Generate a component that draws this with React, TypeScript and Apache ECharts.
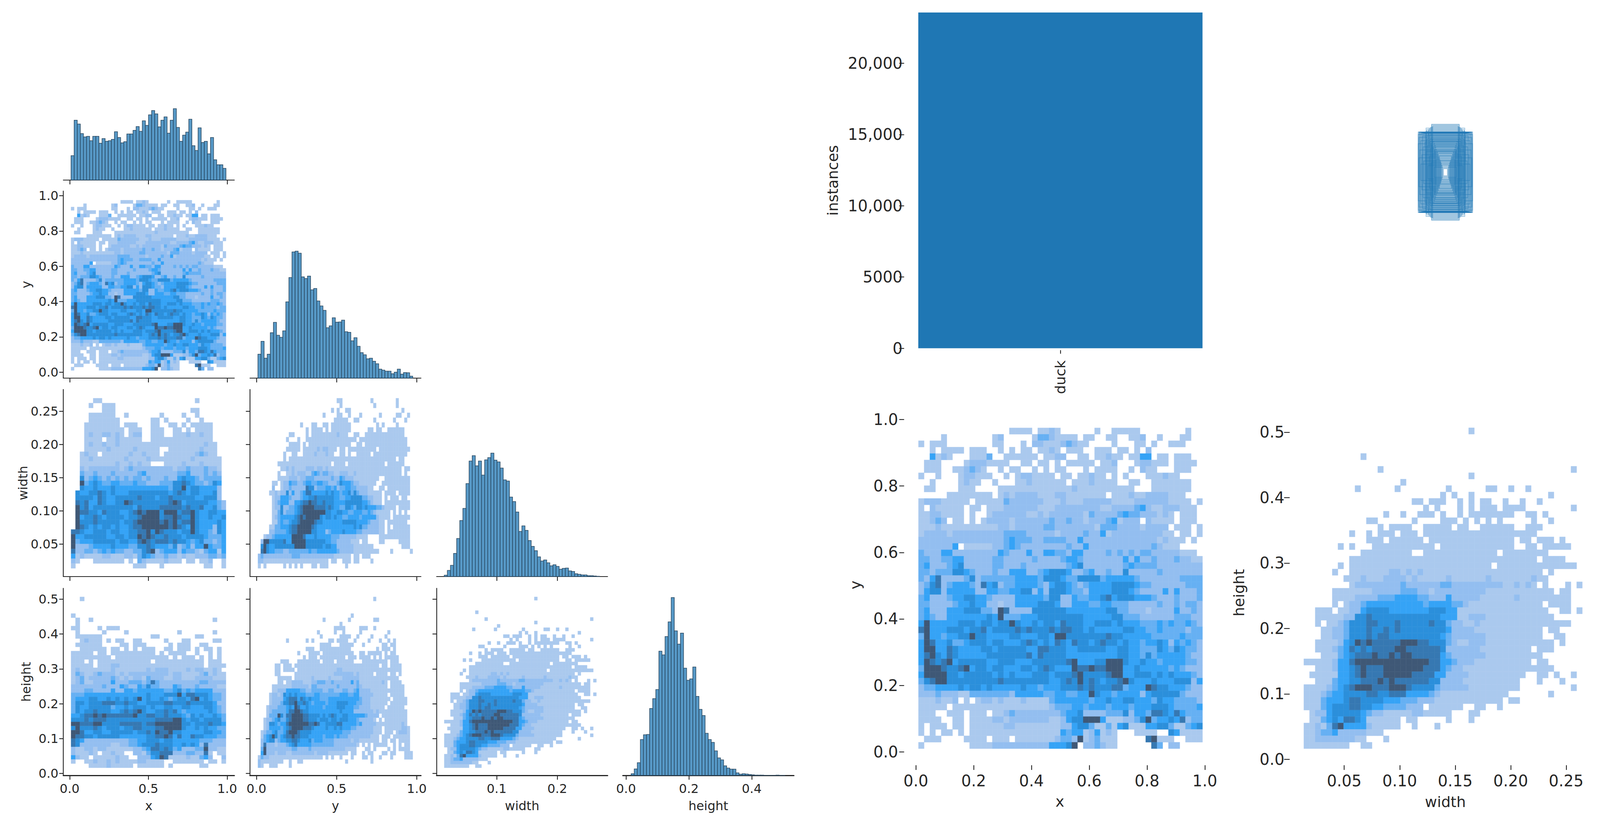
import React, { useEffect, useRef } from 'react';
import * as echarts from 'echarts';

const FONT = 'DejaVu Sans';
const TEXT = '#262626';
const BAR_BLUE = '#1f77b4';
const DESIGN_WIDTH = 4295;

// seaborn pmax ramp, 0 = empty bin
const levelColors = ['none', '#aac9ee', '#93bef0', '#66b0f3', '#35a3f6', '#2b8fdb', '#3678b2', '#3f5876'];

const classNames = ['duck'];
const classCounts = [23560];
const classTicks = [0, 5000, 10000, 15000, 20000];
const classTickLabels = ['0', '5000', '10,000', '15,000', '20,000'];

const xRange = [0.009, 0.992];
const yRange = [0.0096, 0.975];
const widthRange = [0.0136, 0.2697];
const heightRange = [0.0163, 0.5067];

const xCounts = [254, 624, 584, 484, 450, 456, 410, 456, 456, 384, 432, 404, 410, 424, 504, 444, 388, 400, 480, 480, 518, 558, 508, 618, 570, 680, 724, 690, 554, 624, 658, 488, 624, 744, 548, 404, 468, 500, 634, 358, 308, 544, 392, 404, 274, 444, 212, 160, 160, 122];
const yCounts = [120, 185, 100, 120, 228, 280, 215, 205, 237, 383, 505, 633, 637, 627, 508, 500, 512, 443, 450, 387, 362, 340, 253, 262, 303, 281, 282, 291, 233, 230, 187, 203, 160, 128, 117, 97, 100, 85, 72, 45, 40, 35, 35, 22, 30, 45, 20, 28, 27, 10];
const widthCounts = [5, 22, 40, 82, 135, 199, 242, 330, 410, 429, 393, 410, 360, 414, 422, 438, 413, 407, 385, 343, 339, 282, 266, 229, 160, 180, 164, 128, 107, 92, 70, 55, 59, 49, 38, 42, 36, 26, 29, 30, 20, 18, 10, 8, 6, 6, 3, 3, 2, 1];
const heightCounts = [6, 23, 45, 127, 144, 145, 237, 272, 304, 440, 427, 492, 544, 630, 512, 465, 504, 380, 337, 342, 384, 280, 234, 212, 149, 127, 117, 87, 62, 55, 34, 26, 22, 22, 9, 4, 6, 5, 3, 2, 1, 1, 1, 0, 0, 0, 0, 1, 0, 0];

// label boxes drawn centred on the image, half sizes in image units
const boxHalfW = [5.3, 7, 30, 8, 47, 9, 66, 11, 38, 12, 58, 14, 25, 15, 71, 17, 43, 18, 63, 20, 33, 23, 52, 25, 69, 28, 40, 30, 60, 32, 48, 35, 73, 38, 55, 40, 66, 44, 50, 47, 71, 50, 61, 53, 73, 57, 66, 62, 70, 73, 70, 52, 46, 50, 44, 52, 40, 36, 34, 37, 37, 24, 27, 35, 42, 29, 22, 16, 13, 19, 21, 26, 31, 37, 45, 54, 64, 68, 59, 49, 41, 34, 10, 12, 14, 16, 18, 20, 22, 24, 26, 28, 30, 32, 34, 36, 38, 39, 41, 43, 45, 46, 48, 49, 51, 52, 54, 55, 56, 58, 60, 61, 63, 65, 67, 69, 72, 27, 29, 33, 36, 42];
const boxHalfH = [9, 11, 13, 15, 17, 19, 21, 23, 25, 27, 29, 31, 33, 35, 37, 39, 41, 43, 45, 47, 49, 51, 53, 55, 57, 59, 61, 63, 65, 67, 69, 71, 73, 75, 77, 79, 81, 83, 85, 87, 89, 91, 93, 95, 97, 99, 100, 101, 102, 103, 103, 105, 107, 109, 111, 113, 115, 117, 119, 121, 123, 60, 70, 85, 95, 75, 55, 42, 30, 48, 52, 65, 80, 90, 100, 100, 102, 103, 100, 95, 85, 80, 19, 23, 27, 31, 35, 39, 43, 47, 51, 55, 59, 63, 67, 69, 73, 75, 77, 79, 81, 83, 85, 87, 89, 91, 93, 95, 97, 99, 100, 101, 101, 102, 102, 103, 103, 53, 57, 65, 71, 79];

// 2d histograms, top row first, one digit per bin
const xyRows = [
  '00000000000000001111011210000001001111100000000100',
  '00001000000001200000133211110110011001120010001100',
  '10111000000001100010221112321100001000110100111000',
  '00101111011100101011011210111001110110102000000000',
  '00412100011130011111101122001101121101144011011100',
  '01110000122211110011011010111110112000122111011110',
  '01110011232100101100101011000101111001021100011100',
  '10010001221110010122111101101121101010001112110000',
  '00100001211001000112111111011121111001100111111100',
  '01100001110000111111111111121111111111000111111100',
  '00000111111110121222211122111111101112112222111000',
  '12221111101111132222221112111222221111222222111101',
  '10211111011011122222211122222222112222342112221110',
  '11221111010012222221121222222132222343322212101110',
  '11232011010122221222222322322122234122202111101110',
  '11121111111111221222223322222221333222212222011101',
  '12222122222222233332222212222322412222222221101101',
  '22222222222222234333223333224222222222222212111010',
  '22222240111112234322222222322422222222222321110000',
  '32224422222222432224224433244222232323233222221110',
  '33223344222223322222322223443222222242422322232211',
  '34222345222223322232222222345222222234333322222222',
  '33233355432223224442234555422342232252222232222222',
  '32462222352333333444435554335555344444322222223333',
  '23562344432645233444432455432344445555433222222333',
  '24552444442244334455242555433244445554322224242223',
  '34222344554432222444443552243344564555444322232223',
  '33222234454422122444455542244433443332222232232332',
  '34222444555332762222555555444444455332221222242232',
  '34322444444454733344455555555444445533322222233322',
  '47444445554554557544545546555445554544433343433432',
  '67444555455645555656555656655454444455443343333233',
  '37443445575544445544455477555555565544444333334333',
  '47644533455545544456545465465545655454434454243432',
  '47744654444554555554466555445555544554433354354332',
  '46754654444455555556465555444444444554435344444322',
  '47656745555544555444555555674445577754454434444332',
  '37776556745545544455456544476676677744544444343222',
  '47777554555554545444555455567555567744555454544432',
  '35677555555555655555555445657565455675444544455524',
  '23344445455454444454434445556565556634447655444322',
  '22232221133333332444443344334475443444424555553222',
  '11121120101221211121111344444434454455444354433332',
  '11111011111111111111111233344344434443444555433334',
  '11100111011101123222222223445222233352443665464333',
  '11110011011112212222222112455777411122357344546233',
  '10111011011111122111111112245531131451114455311345',
  '10101101011111111111111114344124121000111100541111',
  '01110000111101110111111123327123111000006711100111',
  '10000000011112222222222444570223211000000630220000',
];

const whRows = [
  '00000000000000000000000000000100000000000000000000',
  '00000000000000000000000000000000000000000000000000',
  '00000000000000000000000000000000000000000000000000',
  '00000000000000000000000000000000000000000000000000',
  '00000000001000000000000000000000000000000000000000',
  '00000000000000000000000000000000000000000000000000',
  '00000000000001000000000000000000000000000000000100',
  '00000000000000000000000000000100000000000000000000',
  '00000000000000000100000000000000000000000000000000',
  '00000000010000001000000001000000110010010000000000',
  '00000000000000000000000010100100000000000001000000',
  '00000000000000000001101110010101100100100100000000',
  '00000000000000000000010100010101110111100000000100',
  '00000000000000100100111010010111111110011010000000',
  '00000000000110000001000011101010101000001001000000',
  '00000000000001011110011111011001111110011100000000',
  '00000000100101110111011111111111111111111000000000',
  '00000000000111011111101111111111111110110111010000',
  '00000010100011111111111011111111111110011011111000',
  '00000000001111111110011111111111110111111110000000',
  '00000000111111111111111111111111111111111011110000',
  '00000010111111111111111111111111101111111111111100',
  '00000100111111122121211111111111111111111101000000',
  '00000001112111222212111112111111211111112110000000',
  '00000000122222222322222233222222222112121010001010',
  '00000111111122222333221222222222111111111111011000',
  '00000111122223334444332224222221111112111111111000',
  '00000101223444444444434444332111111111111101111000',
  '00111011224555544444445554411111111111111110011010',
  '00111112255655555555555544411222111111111111000000',
  '00101123555665556555556553221121111111111111111000',
  '00011223555655656555555554222211111111111101100000',
  '00011223555656655555555543222222111111111100110000',
  '00111124576766666777665553211222111111111111010000',
  '00111234656566667766666652222221111111110111000000',
  '00011134566676676776666643222222111111111100000000',
  '11111244677777777777776644322211111111110110000000',
  '00111244567666777777766643221111111111111111000000',
  '01111144567666777776666442222111111111100110100100',
  '00111344556667676666665522221111111111000100010000',
  '11112345677766677765555322222111111111000000000100',
  '11123445555665566644443211111111111100000001000000',
  '11134445665555444333222111111111111011000000000000',
  '11134555665544333322201111110011001000000000000000',
  '01224555554322111112211111000110000000000000000000',
  '01134546654111111011000001000100000000000000000000',
  '11213674444211111001000100000000000000000000000000',
  '11233422222111000000000000000000000000000000000000',
  '11222222211000100000000000000000000000000000000000',
  '11111111001100000000000000000000000000000000000000',
];

const xWidthRows = [
  '00000110000000000000000000001000000',
  '00001001110000000000000000000000000',
  '00000001110000000000000000011000000',
  '00001111110010000000100001001000000',
  '00001111111000000011010000100100000',
  '00011111111011100011001101011111000',
  '00011111111101110011100110101111000',
  '00012112212101220011100111211211000',
  '00011110112111110011111111111111000',
  '00012112112111111111111111111121100',
  '00011111211111211111001111111211100',
  '00121101111112112111011111112321100',
  '00112111111121111211111111121111110',
  '00111111112112121100011112111211110',
  '00212222222123222222222122322232210',
  '00322322232222234222222233422232320',
  '00523432323232332322232245443233330',
  '00734543344333433222333556543323540',
  '00544544454444444444443557455444420',
  '05445565454445555555554565455444520',
  '05555465445555565554556555554455520',
  '06564465445576555555556764555554432',
  '07564555555555465555666665655644532',
  '07665546555445676777577756675445544',
  '07455654555545567777566765575445445',
  '07555655555455677777676756675444454',
  '07654545545445667777776765475444254',
  '66544555455445566757655545575443254',
  '74455555445545576765565554555543334',
  '73444555554554467656665655434533234',
  '72223444454443355654443523424474334',
  '62233234343322335672344424332134414',
  '41211112211122135432232212112223323',
  '21000111111101032111121110110112001',
  '10000000000000111000100000000011001',
];

const xHeightRows = [
  '00100000000000000000000000000000000',
  '00000000000000000000000000000000000',
  '00000000000000000000000000000000000',
  '00000000000000000000000000000000000',
  '10000000000000000000000000000000000',
  '01001000000000000000000000000000100',
  '01000000000000000000000000000000000',
  '11000010111000000000000000000000000',
  '01000001000010000000000010000000100',
  '01111110000000000011000000001100000',
  '00121110101100110000010001100000110',
  '01111110000110111000001011100110000',
  '00111111011010101110011011101011010',
  '11111011011111111110101111001001010',
  '11111111101111111111110101110101010',
  '11101011111111111101111111111101110',
  '11111011122111111111111111111101111',
  '12111111121111111212221111212211210',
  '13211232221212222222221221111231211',
  '12312222232121221322211221112222111',
  '12311222242223332363222222222332222',
  '22222223222432243533222432223222211',
  '22233222242244344444433453434444222',
  '33344444444444444544455574665554332',
  '34445544545454574544543455467454332',
  '35545556665565544555566555655555422',
  '35445555534454555454455445544455432',
  '35455655544565675445565643444445432',
  '44566767666666755665565554354544543',
  '55565666555555555556666775455455553',
  '77666775555666665667777775545556554',
  '57555654555455665556677775445454433',
  '77644554455555455657667554444455443',
  '76655455555444444556676464465544433',
  '65422222222223344555455444444333222',
  '65222222211223345556555445454262222',
  '21122122111111223466565342223372211',
  '21112101121100221355666222332261011',
  '42110111112110022245761111211342002',
  '10011211212111122111100111111101101',
  '00001111211111011111101000000110000',
];

const yWidthRows = [
  '0000000000000000000000000000110000000000100000000100000',
  '0000000000000000000000000000010000000000010000000100000',
  '0000000000000000000000000010100110000000000000000001000',
  '0000000000000000000000010000110010001000000100000110010',
  '0000000000000000000000000001111100110000010000001000100',
  '0000000000000001000110011011111110000000001010000100000',
  '0000000000000000010111101011111110000001101100111111000',
  '0000000000011000010111111111211100110011111111111111000',
  '0000000000100010011111111111111111101111111111111111100',
  '0000000000011110101111111111111110011011111111111111100',
  '0000000000111110111112122111011011111111110111111111110',
  '0000000001001100111121112110011010011111011111111111100',
  '0000000001011111111111111111111111111111111111111011000',
  '0000000111111111111111111101111011111111111110111111000',
  '0000000011212111122212212111111111111111111111111110110',
  '0000000100112122211343233221122211211111111111111110100',
  '0000000111122212233322222232243222111111111001111111110',
  '0000011012243322344334433222354443221111110011111111110',
  '0000020012232222265523334434233443322221100110111111110',
  '0000112122524223466444445454434453532221111101111011110',
  '0000012244432223445565555554433445555332211101011101100',
  '0000012344422445667665565554444555555443211101111111110',
  '0000012252233456777766665654433554355454443321111011110',
  '0000011352333456777777775544554433444334321111101010100',
  '0000012344444567677777545545443344443444442111101111110',
  '0000011343345567777765544444445555544443222110111111100',
  '0000113344456677777654444444444444545332222110101111110',
  '0000223333456677777554442344445444433222222110111111110',
  '0012234444447777644454444433322222211110000111111111110',
  '0277555556447777755555554433222221110110000110000011110',
  '0575445555555777755555545544222222111111100000000001110',
  '0675443332233333334334444444322222111111111000010000001',
  '2322222222223332222222222221111110110111000000000000000',
  '2211111111111111111111111011001110110000100000000000000',
  '1010000001010101000110111000000100000000000000000000000',
];

const yHeightRows = [
  '0000000000000000000000000000000000000000010000000000000',
  '0000000000000000000000000000000000000000000000000000000',
  '0000000000000000000000000000000000000000000000000000000',
  '0000000000000000000000000000000000000000000000000000000',
  '0000000000000000000000000000000001000000000000000000000',
  '0000000000000000000000010000000010000000011000000000000',
  '0000000000000000000000000000010000000000000000000000000',
  '0000000000000000000000000001111000001110010000000000000',
  '0000000000000000000001000001001000001000000000100000000',
  '0000000000000000000000100000011110010000100001000000000',
  '0000000000100000010100000110111100100001000100101000000',
  '0000000000000000000000111100011111000100000011011000000',
  '0000000000000000011100111111111110000000001011101000000',
  '0000000000000010001111011111111111001101111101011000000',
  '0000000000000000101110111111111011101111010101111100000',
  '0000000011100011111111011110111111000111111111011100000',
  '0000001101110111111111111111111111111111111011011110000',
  '0000001101111011111111111111221111111111111111111110000',
  '0000001100000111111111111112222222121111101111011010000',
  '0000000111110111111211111211112222221111111111111100000',
  '0000000110112222111223332232222224231111111121011110000',
  '0000011111112222221332222222322222232111111111011111000',
  '0000011222444443322333322332223322342222111111111111000',
  '0000122125454544433344333333344433442222211111011111000',
  '0000122224566646545444333444444444443222111111101111100',
  '0000122235566755654344443444555544433222111111011111100',
  '0001222333454764454444434444555444332222111110111111000',
  '0001233333466776554444444444454444222222212111111111100',
  '0001333753667777665555454565445544444432222011111111100',
  '0012234533567777665554555455455544432222210101111111100',
  '0012554344677777776676445555664444434222221111111112100',
  '0012444434567777666544445445454443322222211101111112210',
  '0123345334677765555444444444443332222222211101110122210',
  '0134575345667665554444434443433322222222111011101111110',
  '0234552344556654445344433332222221221111111011011011110',
  '0262221222345644444333333332222222210101011111001010110',
  '0372222222223322223222222222222111100011010000101011110',
  '0472221222112222222212222111111101100101100011011000111',
  '1322111111111111111111101010010001000110100100010000111',
  '2111111110010011000000000000000100000000100000000000000',
  '2100111000010000000000000000000000000000000000000000000',
];

const unitTicks = [0, 0.5, 1];
const fifthTicks = [0, 0.2, 0.4, 0.6, 0.8, 1];
const widthTicks = [0.05, 0.1, 0.15, 0.2, 0.25];
const heightTicks = [0, 0.1, 0.2, 0.3, 0.4, 0.5];

const cellsFrom = (rows: string[], xr: number[], yr: number[]) => {
  const out: number[][] = [];
  const ny = rows.length;
  rows.forEach((row, r) => {
    const nx = row.length;
    for (let i = 0; i < nx; i++) {
      const level = Number(row[i]);
      if (!level) continue;
      const dx = (xr[1] - xr[0]) / nx;
      const dy = (yr[1] - yr[0]) / ny;
      const y0 = yr[1] - (r + 1) * dy;
      out.push([xr[0] + i * dx, y0, xr[0] + (i + 1) * dx, y0 + dy, level]);
    }
  });
  return out;
};

const binsFrom = (counts: number[], xr: number[]) => {
  const dx = (xr[1] - xr[0]) / counts.length;
  return counts.map((c, i) => [xr[0] + i * dx, 0, xr[0] + (i + 1) * dx, c]);
};

const renderCell = (_: any, api: any) => {
  const a = api.coord([api.value(0), api.value(1)]);
  const b = api.coord([api.value(2), api.value(3)]);
  const fill = levelColors[api.value(4)];
  return {
    type: 'rect',
    shape: { x: a[0], y: b[1], width: b[0] - a[0], height: a[1] - b[1] },
    style: { fill, stroke: fill, lineWidth: 0.5 },
  };
};

const renderBin = (_: any, api: any) => {
  const a = api.coord([api.value(0), api.value(1)]);
  const b = api.coord([api.value(2), api.value(3)]);
  return {
    type: 'rect',
    shape: { x: a[0], y: b[1], width: b[0] - a[0], height: a[1] - b[1] },
    style: { fill: 'rgba(31,119,180,0.75)', stroke: '#2c4a62', lineWidth: 1.5 },
  };
};

const renderBox = (_: any, api: any) => {
  const a = api.coord([-api.value(0), -api.value(1)]);
  const b = api.coord([api.value(0), api.value(1)]);
  return {
    type: 'rect',
    shape: { x: a[0], y: b[1], width: b[0] - a[0], height: a[1] - b[1] },
    style: { fill: 'none', stroke: BAR_BLUE, lineWidth: 1.8, opacity: 0.42 },
  };
};

const colLeft = [170, 671, 1172, 1672];
const rowBottom = [461, 968, 1476, 1985];
const CELL_W = 459;
const CELL_H = 479;

// axis limits per pair-plot column and row
const colLimits = [[-0.04, 1.045], [-0.04, 1.026], [0.001, 0.283], [-0.01, 0.534]];
const rowLimits = [[0, 1], [-0.034, 1.027], [0.0012, 0.2829], [-0.0056, 0.5314]];
const colTicks = [unitTicks, unitTicks, [0.1, 0.2], [0, 0.2, 0.4]];
const rowTicks = [[], fifthTicks, widthTicks, heightTicks];
const rowDigits = [1, 1, 2, 1];
const colNames = ['x', 'y', 'width', 'height'];
const rowNames = ['', 'y', 'width', 'height'];

const App: React.FC = () => {
  const chartRef = useRef<HTMLDivElement>(null);

  useEffect(() => {
    if (!chartRef.current) return;
    document.body.style.margin = '0';
    document.body.style.overflow = 'hidden';
    const chart = echarts.init(chartRef.current, undefined, { renderer: 'svg' });
    // the window can be narrower than the picture, keep horizontal proportions
    const sx = window.innerWidth / DESIGN_WIDTH;

    const grids: any[] = [];
    const xAxes: any[] = [];
    const yAxes: any[] = [];
    const series: any[] = [];

    const spine = (width: number) => ({ show: true, onZero: false, lineStyle: { color: TEXT, width } });
    const tickStyle = (values: number[], length: number, width = 2.2) => ({
      show: true, length, customValues: values, lineStyle: { color: TEXT, width },
    });
    const labelStyle = (values: number[], digits: number, size: number, margin: number, show = true) => ({
      show, customValues: values, margin, fontSize: size, fontFamily: FONT, color: TEXT,
      formatter: (v: number) => v.toFixed(digits),
    });
    const nameStyle = (size: number) => ({ fontSize: size, fontFamily: FONT, color: TEXT });

    const addPair = (col: number, row: number, kind: 'hist' | 'heat', data: number[][], yMax?: number) => {
      const idx = grids.length;
      const bottomRow = row === 3;
      grids.push({ left: colLeft[col] * sx, top: rowBottom[row] - CELL_H, width: CELL_W * sx, height: CELL_H });
      xAxes.push({
        gridIndex: idx, type: 'value', min: colLimits[col][0], max: colLimits[col][1], splitLine: { show: false },
        axisLine: spine(bottomRow ? 3.2 : 2.2),
        axisTick: tickStyle(colTicks[col], 11),
        axisLabel: labelStyle(colTicks[col], 1, 32, 18, bottomRow),
        name: bottomRow ? colNames[col] : '', nameLocation: 'middle', nameGap: 62, nameTextStyle: nameStyle(32),
      });
      const first = col === 0;
      yAxes.push(kind === 'hist'
        ? { gridIndex: idx, type: 'value', min: 0, max: yMax, show: false }
        : {
          gridIndex: idx, type: 'value', min: rowLimits[row][0], max: rowLimits[row][1], splitLine: { show: false },
          axisLine: spine(2.2),
          axisTick: tickStyle(rowTicks[row], 11 * sx),
          axisLabel: labelStyle(rowTicks[row], rowDigits[row], 32, 13 * sx, first),
          name: first ? rowNames[row] : '', nameLocation: 'middle', nameGap: 83 * sx, nameTextStyle: nameStyle(32),
        });
      series.push({
        type: 'custom', xAxisIndex: idx, yAxisIndex: idx, silent: true, clip: false,
        renderItem: kind === 'hist' ? renderBin : renderCell,
        encode: { x: [0, 2], y: [1, 3] },
        data,
      });
    };

    addPair(0, 0, 'hist', binsFrom(xCounts, xRange), 1876);
    addPair(0, 1, 'heat', cellsFrom(xyRows, xRange, yRange));
    addPair(1, 1, 'hist', binsFrom(yCounts, yRange), 939);
    addPair(0, 2, 'heat', cellsFrom(xWidthRows, xRange, widthRange));
    addPair(1, 2, 'heat', cellsFrom(yWidthRows, yRange, widthRange));
    addPair(2, 2, 'hist', binsFrom(widthCounts, widthRange), 664);
    addPair(0, 3, 'heat', cellsFrom(xHeightRows, xRange, heightRange));
    addPair(1, 3, 'heat', cellsFrom(yHeightRows, yRange, heightRange));
    addPair(2, 3, 'heat', cellsFrom(whRows, widthRange, heightRange));
    addPair(3, 3, 'hist', binsFrom(heightCounts, heightRange), 663);

    // instances per class
    let idx = grids.length;
    grids.push({ left: 2465 * sx, top: 32, width: 763 * sx, height: 859.5 });
    xAxes.push({
      gridIndex: idx, type: 'category', data: classNames, offset: 5,
      axisLine: { show: false, onZero: false },
      axisTick: { show: true, alignWithLabel: true, length: 9, lineStyle: { color: TEXT, width: 2.2 } },
      axisLabel: { rotate: 90, margin: 26, fontSize: 36, fontFamily: FONT, color: TEXT },
    });
    yAxes.push({
      gridIndex: idx, type: 'value', min: 0, max: classCounts[0], offset: 38 * sx, splitLine: { show: false },
      axisLine: { show: false, onZero: false },
      axisTick: tickStyle(classTicks, 13 * sx),
      axisLabel: {
        customValues: classTicks, margin: 4, fontSize: 40, fontFamily: FONT, color: TEXT,
        formatter: (v: number) => classTickLabels[classTicks.indexOf(v)],
      },
      name: 'instances', nameLocation: 'middle', nameGap: 172 * sx, nameTextStyle: nameStyle(38),
    });
    series.push({
      type: 'bar', xAxisIndex: idx, yAxisIndex: idx, silent: true, barWidth: '100%',
      itemStyle: { color: BAR_BLUE }, data: classCounts,
    });

    // box outlines
    idx = grids.length;
    grids.push({ left: 3480 * sx, top: 41, width: 800 * sx, height: 800 });
    xAxes.push({ gridIndex: idx, type: 'value', min: -400, max: 400, show: false });
    yAxes.push({ gridIndex: idx, type: 'value', min: -400, max: 400, show: false });
    series.push({
      type: 'custom', xAxisIndex: idx, yAxisIndex: idx, silent: true, renderItem: renderBox,
      data: boxHalfW.map((w, i) => [w, boxHalfH[i]]),
    });

    // large x / y
    idx = grids.length;
    grids.push({ left: 2450 * sx, top: 1060, width: 790 * sx, height: 875 });
    xAxes.push({
      gridIndex: idx, type: 'value', min: -0.01096, max: 1.0075, offset: 24, splitLine: { show: false },
      axisLine: { show: false, onZero: false },
      axisTick: tickStyle(fifthTicks, 12),
      axisLabel: labelStyle(fifthTicks, 1, 40, 20),
      name: 'x', nameLocation: 'middle', nameGap: 74, nameTextStyle: nameStyle(38),
    });
    yAxes.push({
      gridIndex: idx, type: 'value', min: -0.0121, max: 1.0165, offset: 23 * sx, splitLine: { show: false },
      axisLine: { show: false, onZero: false },
      axisTick: tickStyle(fifthTicks, 13 * sx),
      axisLabel: labelStyle(fifthTicks, 1, 40, 16 * sx),
      name: 'y', nameLocation: 'middle', nameGap: 111 * sx, nameTextStyle: nameStyle(38),
    });
    series.push({
      type: 'custom', xAxisIndex: idx, yAxisIndex: idx, silent: true, renderItem: renderCell,
      encode: { x: [0, 2], y: [1, 3] }, data: cellsFrom(xyRows, xRange, yRange),
    });

    // large width / height
    idx = grids.length;
    grids.push({ left: 3490 * sx, top: 1085, width: 780 * sx, height: 865 });
    xAxes.push({
      gridIndex: idx, type: 'value', min: 0.01025, max: 0.2721, offset: 9, splitLine: { show: false },
      axisLine: { show: false, onZero: false },
      axisTick: tickStyle(widthTicks, 12),
      axisLabel: labelStyle(widthTicks, 2, 40, 20),
      name: 'width', nameLocation: 'middle', nameGap: 75, nameTextStyle: nameStyle(38),
    });
    yAxes.push({
      gridIndex: idx, type: 'value', min: -0.0037, max: 0.5127, offset: 28 * sx, splitLine: { show: false },
      axisLine: { show: false, onZero: false },
      axisTick: tickStyle(heightTicks, 15 * sx),
      axisLabel: labelStyle(heightTicks, 1, 40, 14 * sx),
      name: 'height', nameLocation: 'middle', nameGap: 116 * sx, nameTextStyle: nameStyle(38),
    });
    series.push({
      type: 'custom', xAxisIndex: idx, yAxisIndex: idx, silent: true, renderItem: renderCell,
      encode: { x: [0, 2], y: [1, 3] }, data: cellsFrom(whRows, widthRange, heightRange),
    });

    chart.setOption({
      animation: false,
      backgroundColor: '#ffffff',
      grid: grids,
      xAxis: xAxes,
      yAxis: yAxes,
      series,
    });

    return () => chart.dispose();
  }, []);

  return <div ref={chartRef} style={{ width: '100vw', height: 2112 }} />;
};

export default App;
